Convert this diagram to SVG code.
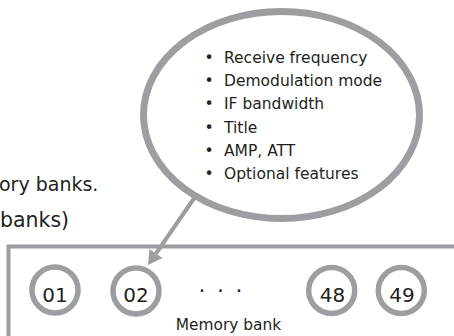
<svg xmlns="http://www.w3.org/2000/svg" width="454" height="336" viewBox="0 0 454 336">
<style>
.g{fill:none;stroke:#9d9ea2}
.t{font-family:"DejaVu Sans","Verdana",sans-serif;fill:#231f20}
.li{font-size:15.5px}
.num{font-size:20px;text-anchor:middle}
.ring{fill:#fff;stroke:#9d9ea2;stroke-width:5.5}
</style>
<rect width="454" height="336" fill="#fff"/>
<g id="intro-text">
<text class="t" x="-1" y="190.5" font-size="19">ory banks.</text>
<text class="t" x="0" y="226.5" font-size="20.5">banks)</text>
</g>
<g id="memory-bank-box">
<path class="g" stroke-width="4" d="M8.5,340 V246.5 H460"/>
<text class="t" x="228.5" y="330" font-size="15.4" text-anchor="middle">Memory bank</text>
<text class="t" x="202 220.5 239" y="298" font-size="22" text-anchor="middle">···</text>
</g>
<g id="bank-01"><circle class="ring" cx="55" cy="290" r="23"/><text class="t num" x="55" y="301.5">01</text></g>
<g id="bank-02"><circle class="ring" cx="136" cy="291" r="23"/><text class="t num" x="136" y="302">02</text></g>
<g id="bank-48"><circle class="ring" cx="331.7" cy="290.5" r="23"/><text class="t num" x="332.5" y="302">48</text></g>
<g id="bank-49"><circle class="ring" cx="401.3" cy="290.5" r="23"/><text class="t num" x="402" y="302">49</text></g>
<g id="callout">
<ellipse class="g" stroke-width="7" cx="281.5" cy="115" rx="138" ry="103.5"/>
<g class="t li">
<text x="209" y="62.7" text-anchor="middle">•</text><text x="224" y="62.7">Receive frequency</text>
<text x="209" y="86" text-anchor="middle">•</text><text x="224" y="86">Demodulation mode</text>
<text x="209" y="109.3" text-anchor="middle">•</text><text x="224" y="109.3">IF bandwidth</text>
<text x="209" y="132.6" text-anchor="middle">•</text><text x="224" y="132.6">Title</text>
<text x="209" y="155.9" text-anchor="middle">•</text><text x="224" y="155.9">AMP, ATT</text>
<text x="209" y="179.2" text-anchor="middle">•</text><text x="224" y="179.2">Optional features</text>
</g>
</g>
<g id="connectors">
<line x1="197" y1="194" x2="156" y2="253.5" stroke="#9d9ea2" stroke-width="4"/>
<polygon points="148,265 162.5,258 149.4,248.9" fill="#9d9ea2"/>
</g>
</svg>
